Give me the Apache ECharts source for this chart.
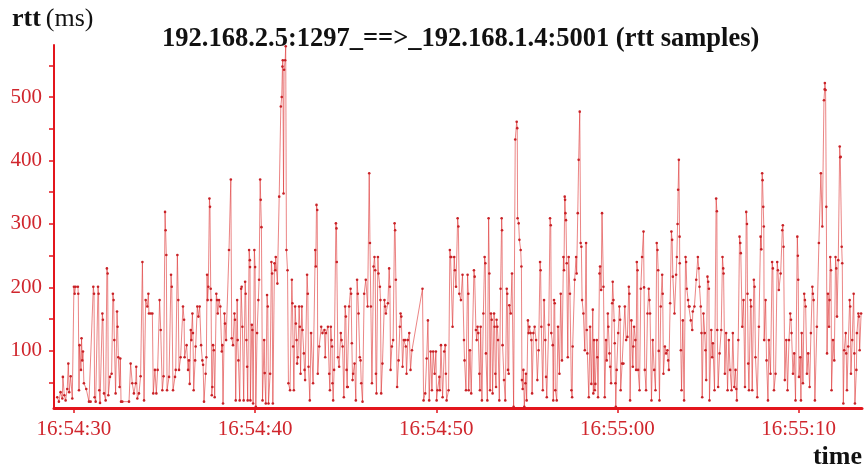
<!DOCTYPE html>
<html>
<head>
<meta charset="utf-8">
<script src="https://cdn.jsdelivr.net/npm/echarts@6/dist/echarts.min.js"></script>
<style>
  html, body { margin: 0; padding: 0; background: #ffffff; }
  #chart { width: 866px; height: 468px; }
</style>
</head>
<body>
<div id="chart"></div>
<script>
// RTT samples, [seconds after 16:54:00, rtt in ms], grouped by time window
const samples_29_36 = [
  [29.08,27],[29.17,20],[29.26,35],[29.36,25],[29.39,59],[29.47,30],[29.54,22],[29.63,40],[29.69,80],[29.74,35],[29.82,60],[29.91,25],
  [30.00,201],[30.04,190],[30.09,201],[30.22,201],[30.24,190],[30.28,38],[30.31,109],[30.39,70],[30.42,120],[30.46,85],[30.50,99],[30.55,49],[30.68,40],[30.83,20],[30.92,20],
  [31.07,201],[31.11,190],[31.14,27],[31.20,20],[31.33,201],[31.36,190],[31.40,38],[31.44,18],[31.57,159],[31.60,149],[31.66,33],[31.75,22],[31.82,230],[31.86,222],[31.90,30],[31.99,59],
  [32.08,64],[32.15,190],[32.19,180],[32.23,117],[32.30,33],[32.38,162],[32.41,138],[32.45,90],[32.52,43],[32.56,88],[32.60,20],[32.67,20],
  [33.04,20],[33.13,80],[33.22,49],[33.31,33],[33.41,49],[33.44,75],[33.50,25],[33.59,33],[33.68,60],[33.78,240],[33.87,22],[33.96,180],
  [34.05,170],[34.11,190],[34.14,159],[34.24,159],[34.33,159],[34.38,33],[34.47,70],[34.55,33],[34.62,70],[34.73,180],[34.79,133],[34.88,38],[34.95,60],
  [35.03,319],[35.06,290],[35.10,251],[35.14,38],[35.25,59],[35.36,220],[35.40,201],[35.47,38],[35.58,59],[35.62,70],[35.71,251],[35.76,180],[35.80,70],[35.89,90],
  [36.02,170],[36.08,149],[36.11,90],[36.22,109],[36.30,70]
];

const samples_36_44 = [
  [36.35,85],[36.39,48],[36.45,133],[36.48,117],[36.54,159],[36.57,128],[36.61,38],[36.69,85],[36.72,107],[36.81,170],[36.87,154],[36.94,170],
  [37.02,109],[37.09,85],[37.13,78],[37.18,20],[37.27,64],[37.31,90],[37.35,220],[37.38,180],[37.42,201],[37.48,340],[37.51,327],[37.55,198],[37.57,180],[37.61,30],[37.64,43],[37.68,109],[37.72,101],[37.77,27],[37.86,190],[37.90,180],[37.94,159],
  [38.01,180],[38.08,170],[38.16,99],[38.19,109],[38.23,17],[38.31,159],[38.34,143],[38.40,117],[38.56,259],[38.66,370],[38.71,120],[38.78,109],[38.86,159],[38.89,149],[38.93,22],
  [39.01,180],[39.04,117],[39.08,85],[39.15,22],[39.23,198],[39.26,201],[39.30,138],[39.37,22],[39.45,209],[39.48,190],[39.52,117],[39.56,75],[39.59,22],[39.67,259],[39.71,243],[39.72,232],[39.74,22],[39.82,141],[39.85,133],[39.89,17],[39.96,259],
  [40.00,232],[40.04,12],[40.11,128],[40.18,180],[40.22,212],[40.28,370],[40.31,338],[40.35,295],[40.41,22],[40.50,117],[40.53,65],[40.59,17],[40.66,188],[40.70,170],[40.74,17],[40.83,64],[40.90,240],[40.94,222],[40.98,17],
  [41.07,238],[41.11,227],[41.14,248],[41.23,206],[41.33,343],[41.42,485],[41.47,500],[41.51,548],[41.53,558],[41.57,348],[41.60,543],[41.66,558],[41.69,580],[41.73,259],[41.79,227],[41.84,49],[41.93,38],
  [42.03,212],[42.06,175],[42.10,107],[42.14,38],[42.21,170],[42.25,143],[42.29,117],[42.32,80],[42.36,90],[42.43,170],[42.47,138],[42.51,64],[42.58,170],[42.62,133],[42.69,96],[42.73,70],[42.76,54],[42.87,220],[42.91,190],[42.95,75],
  [43.02,22],[43.09,128],[43.20,49],[43.32,259],[43.35,233],[43.39,330],[43.43,322],[43.46,64],[43.54,107],[43.65,138],[43.72,128],[43.83,133],[43.87,90],[43.91,128],[44.02,138]
];

const samples_44_52 = [
  [44.09,64],[44.13,38],[44.18,138],[44.22,117],[44.25,107],[44.27,49],[44.31,22],[44.36,70],[44.46,301],[44.49,293],[44.51,240],[44.57,90],[44.64,75],[44.73,128],[44.77,117],[44.83,107],[44.90,27],[44.97,170],
  [45.01,154],[45.05,70],[45.08,43],[45.12,43],[45.19,170],[45.27,198],[45.30,190],[45.34,112],[45.38,54],[45.41,64],[45.49,80],[45.56,22],[45.63,212],[45.67,190],[45.71,159],[45.78,90],[45.82,85],[45.86,49],[45.93,20],
  [46.02,190],[46.11,212],[46.21,170],[46.30,380],[46.34,270],[46.39,170],[46.45,49],[46.54,233],[46.59,248],[46.63,227],[46.67,64],[46.70,33],[46.78,248],[46.81,222],[46.89,201],[46.92,180],[46.96,33],
  [47.03,80],[47.14,180],[47.18,170],[47.22,159],[47.33,175],[47.40,230],[47.44,201],[47.48,70],[47.55,107],[47.62,117],[47.70,301],[47.73,290],[47.77,212],[47.84,43],[47.92,85],[47.99,138],
  [48.03,159],[48.07,154],[48.14,75],[48.21,117],[48.29,117],[48.32,107],[48.36,64],[48.43,117],[48.51,128],[48.58,70],[48.66,101],
  [49.24,198],[49.30,22],[49.39,33],[49.47,88],[49.54,148],[49.61,22],[49.69,99],[49.76,38],[49.83,99],[49.91,64],[49.98,99],
  [50.02,22],[50.07,38],[50.17,59],[50.20,38],[50.26,109],[50.35,27],[50.44,99],[50.50,109],[50.53,64],[50.57,22],[50.68,38],[50.75,259],[50.79,248],[50.83,248],[50.90,138],[50.99,248],
  [51.03,227],[51.09,201],[51.18,309],[51.22,296],[51.27,190],[51.36,180],[51.45,220],[51.53,117],[51.56,85],[51.64,38],[51.73,220],[51.77,190]
];

const samples_52_59 = [
  [51.79,38],[51.86,101],[51.93,33],[52.08,227],[52.12,217],[52.19,133],[52.23,117],[52.28,138],[52.32,128],[52.38,64],[52.41,38],[52.45,138],[52.52,22],[52.60,159],[52.67,248],[52.71,238],[52.74,96],[52.82,22],[52.89,309],[52.93,222],[52.97,38],
  [53.02,159],[53.06,149],[53.11,33],[53.19,159],[53.22,138],[53.26,64],[53.30,43],[53.33,149],[53.37,138],[53.41,117],[53.48,22],[53.55,198],[53.61,309],[53.63,290],[53.66,109],[53.74,54],[53.81,22],[53.89,198],[53.92,190],[53.96,70],
  [54.00,64],[54.03,172],[54.11,159],[54.18,222],[54.27,12],[54.36,433],[54.44,461],[54.47,451],[54.49,309],[54.55,301],[54.59,275],[54.66,259],[54.70,233],[54.73,54],[54.77,40],[54.81,70],[54.86,12],[54.92,49],[54.95,64],[54.99,22],
  [55.06,148],[55.10,128],[55.14,138],[55.21,128],[55.25,117],[55.29,33],[55.36,128],[55.43,138],[55.51,117],[55.58,54],[55.65,101],[55.73,240],[55.76,227],[55.80,138],[55.88,38],[55.95,180],
  [56.02,117],[56.06,59],[56.10,27],[56.21,141],[56.28,309],[56.32,298],[56.35,128],[56.43,109],[56.46,22],[56.50,180],[56.54,175],[56.57,38],[56.65,22],[56.72,138],[56.80,64],[56.87,190],[56.94,85],
  [57.02,248],[57.05,227],[57.09,343],[57.11,338],[57.13,317],[57.16,306],[57.20,238],[57.26,90],[57.31,248],[57.38,190],[57.46,38],[57.50,27],[57.53,107],[57.64,212],[57.72,248],[57.75,222],[57.81,317],[57.86,401],[57.92,477],[57.97,270],
  [58.01,264],[58.05,180],[58.12,159],[58.20,101],[58.27,270],[58.31,133],[58.34,96],[58.42,27],[58.49,138],[58.56,48],[58.64,165],[58.67,33],[58.71,117],[58.75,38],[58.78,48],[58.86,117],[58.89,90],[58.93,27],
  [59.01,222],[59.04,233],[59.10,196],[59.15,317],[59.23,201],[59.30,27],[59.37,117],[59.41,85],[59.47,159]
];

const samples_59_67 = [
  [59.50,138],[59.56,96],[59.60,75],[59.65,49],[59.71,175],[59.74,209],[59.78,180],[59.82,148],[59.85,112],[59.89,49],[59.91,12],[59.96,70],
  [60.04,128],[60.11,170],[60.15,149],[60.18,38],[60.26,80],[60.33,80],[60.41,170],[60.48,117],[60.55,122],[60.63,201],[60.66,190],[60.70,22],[60.77,148],[60.85,75],[60.88,107],[60.92,138],[60.99,117],
  [61.03,70],[61.07,240],[61.11,227],[61.14,70],[61.22,38],[61.29,198],[61.36,248],[61.44,288],[61.47,200],[61.51,70],[61.58,38],[61.66,159],[61.73,198],[61.77,180],[61.80,159],[61.88,22],[61.95,117],
  [62.03,70],[62.10,38],[62.17,270],[62.21,259],[62.25,227],[62.28,100],[62.32,22],[62.39,170],[62.47,220],[62.50,190],[62.54,64],[62.62,107],[62.69,96],[62.76,101],[62.80,85],[62.84,70],[62.91,175],[62.98,288],
  [63.02,275],[63.06,217],[63.15,159],[63.24,220],[63.28,248],[63.32,300],[63.35,354],[63.39,401],[63.43,280],[63.44,238],[63.50,101],[63.54,38],[63.61,148],[63.68,22],[63.76,248],[63.79,240],[63.83,198],[63.90,180],[63.94,170],[63.98,170],
  [64.05,148],[64.13,133],[64.16,162],[64.25,170],[64.35,212],[64.44,248],[64.49,230],[64.53,201],[64.60,170],[64.64,128],[64.68,27],[64.75,159],[64.82,128],[64.86,101],[64.90,54],[64.97,217],
  [65.01,209],[65.05,198],[65.08,22],[65.18,133],[65.23,90],[65.27,112],[65.36,38],[65.45,340],[65.49,320],[65.51,133],[65.56,43],[65.64,96],[65.73,133],[65.80,248],[65.84,230],[65.86,222],[65.93,64],
  [66.00,128],[66.08,38],[66.15,117],[66.22,70],[66.30,38],[66.37,128],[66.45,43],[66.52,70],[66.56,40],[66.59,22],[66.67,117],[66.74,280],[66.78,270],[66.81,254],[66.89,138],[66.96,180],
  [67.04,43],[67.11,319],[67.15,300],[67.18,190],[67.22,80],[67.26,38]
];

const samples_67_74 = [
  [67.35,180],[67.38,170],[67.44,38],[67.53,212],[67.57,201],[67.62,90],[67.72,27],[67.81,138],[67.90,280],[67.94,260],[67.99,380],
  [68.01,369],[68.05,327],[68.08,296],[68.10,117],[68.18,180],[68.23,85],[68.31,22],[68.36,117],[68.45,64],[68.54,240],[68.58,230],[68.64,38],[68.73,64],[68.82,240],[68.86,227],[68.91,196],
  [69.01,222],[69.10,290],[69.13,298],[69.17,264],[69.24,54],[69.32,117],[69.39,38],[69.47,117],[69.54,159],[69.58,149],[69.61,128],[69.69,64],[69.76,96],[69.83,22],[69.93,280],[69.96,250],[69.98,212],
  [70.02,59],[70.09,90],[70.13,22],[70.17,128],[70.24,49],[70.31,190],[70.35,180],[70.39,170],[70.46,64],[70.53,96],[70.61,43],[70.68,128],[70.76,201],[70.79,190],[70.83,180],[70.90,22],
  [71.01,138],[71.12,270],[71.23,380],[71.31,296],[71.40,495],[71.44,512],[71.45,522],[71.49,511],[71.53,327],[71.57,96],[71.62,190],[71.68,138],[71.71,180],[71.75,248],[71.79,227],[71.82,38],[71.90,117],[71.97,85],
  [72.04,248],[72.08,230],[72.12,154],[72.19,243],[72.27,422],[72.30,405],[72.32,406],[72.38,264],[72.41,238],[72.47,17],[72.52,101],[72.60,128],[72.63,96],[72.67,38],[72.74,107],[72.82,180],[72.85,170],[72.89,64],[72.96,117],
  [73.04,190],[73.08,96],[73.11,17],[73.19,70],[73.22,128],[73.30,159],[73.33,154],[73.37,101],[73.45,159]
];

// Axis ticks and labels
const xTickSecs = [30, 40, 50, 60, 70];
const xTickLabels = ['16:54:30', '16:54:40', '16:54:50', '16:55:00', '16:55:10'];
const yLabelValues = [100, 200, 300, 400, 500];
const yTickValues = [50, 100, 150, 200, 250, 300, 350, 400, 450, 500, 550];

const rttSamples = [].concat(samples_29_36, samples_36_44, samples_44_52, samples_52_59, samples_59_67, samples_67_74);

const RED = '#e3151c';
const LABEL_RED = '#d0262d';
const SERIF = "'Liberation Serif', 'Times New Roman', 'DejaVu Serif', serif";

const chart = echarts.init(document.getElementById('chart'), null, { renderer: 'canvas' });
chart.setOption({
  animation: false,
  backgroundColor: '#ffffff',
  title: [
    {
      text: '192.168.2.5:1297_==>_192.168.1.4:5001 (rtt samples)',
      left: 162, top: 26, padding: 0,
      textStyle: { fontFamily: SERIF, fontWeight: 'bold', fontSize: 26.5, color: '#111111' }
    },
    {
      text: '{b|rtt} {n|(ms)}',
      left: 12, top: 6, padding: 0,
      textStyle: {
        rich: {
          b: { fontFamily: SERIF, fontWeight: 'bold', fontSize: 26, color: '#111111' },
          n: { fontFamily: SERIF, fontWeight: 'normal', fontSize: 26, color: '#111111' }
        }
      }
    },
    {
      text: 'time',
      right: 4, top: 444, padding: 0,
      textStyle: { fontFamily: SERIF, fontWeight: 'bold', fontSize: 26, color: '#111111' }
    }
  ],
  grid: { left: 54, right: 4, top: 45, bottom: 60 },
  xAxis: {
    type: 'value',
    min: 28.9,
    max: 73.5,
    splitLine: { show: false },
    axisLine: { show: true, onZero: false, lineStyle: { color: RED, width: 3 } },
    axisTick: { show: true, inside: false, length: 5, customValues: xTickSecs, lineStyle: { color: RED, width: 1.5 } },
    axisLabel: {
      customValues: xTickSecs,
      margin: 11,
      color: LABEL_RED,
      fontFamily: SERIF,
      fontSize: 21,
      formatter: function (v) {
        const i = xTickSecs.indexOf(Math.round(v));
        return i >= 0 ? xTickLabels[i] : '';
      }
    }
  },
  yAxis: {
    type: 'value',
    min: 10,
    max: 582,
    splitLine: { show: false },
    axisLine: { show: true, onZero: false, lineStyle: { color: RED, width: 2 } },
    axisTick: { show: true, inside: false, length: 5, customValues: yTickValues, lineStyle: { color: RED, width: 1.5 } },
    axisLabel: {
      customValues: yLabelValues,
      margin: 12,
      color: LABEL_RED,
      fontFamily: SERIF,
      fontSize: 21
    }
  },
  series: [{
    type: 'line',
    data: rttSamples,
    showSymbol: true,
    showAllSymbol: true,
    symbol: 'circle',
    symbolSize: 2.6,
    clip: true,
    lineStyle: { color: 'rgba(222, 55, 55, 0.68)', width: 0.9 },
    itemStyle: { color: '#c82227' },
    emphasis: { disabled: true }
  }]
});
</script>
</body>
</html>
